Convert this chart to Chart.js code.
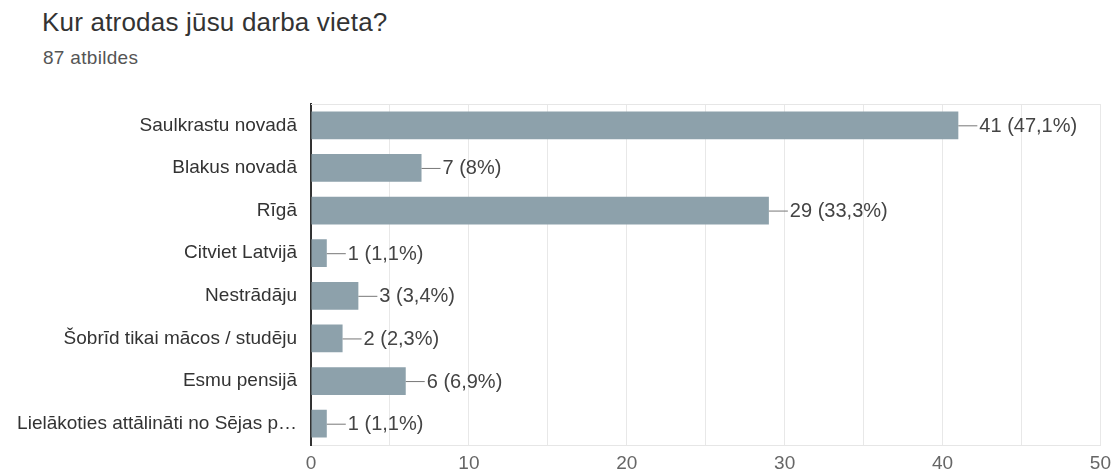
<!DOCTYPE html>
<html>
<head>
<meta charset="utf-8">
<script src="https://cdn.jsdelivr.net/npm/chart.js@4"></script>
<style>
  html, body { margin: 0; padding: 0; background: #fff; }
  #wrap { position: relative; width: 1118px; height: 475px; overflow: hidden; }
  #title { position: absolute; left: 42px; top: 7px; font: 26px "Liberation Sans", Arial, sans-serif; color: #333; white-space: nowrap; letter-spacing: 0.2px; }
  #sub { position: absolute; left: 43px; top: 47px; font: 19px "Liberation Sans", Arial, sans-serif; color: #555; white-space: nowrap; letter-spacing: 0.3px; }
  canvas { position: absolute; left: 0; top: 0; }
</style>
</head>
<body>
<div id="wrap">
  <div id="title">Kur atrodas jūsu darba vieta?</div>
  <div id="sub">87 atbildes</div>
  <canvas id="chart" width="1118" height="475"></canvas>
</div>
<script>
const categories = [
  'Saulkrastu novadā',
  'Blakus novadā',
  'Rīgā',
  'Citviet Latvijā',
  'Nestrādāju',
  'Šobrīd tikai mācos / studēju',
  'Esmu pensijā',
  'Lielākoties attālināti no Sējas p…'
];
const counts = [41, 7, 29, 1, 3, 2, 6, 1];
const totalAnswers = 87;
const xTicks = [0, 10, 20, 30, 40, 50];

const FONT = '"Liberation Sans", Arial, sans-serif';

function pctLabel(v) {
  const p = Math.round(v / totalAnswers * 1000) / 10;
  return v + ' (' + String(p).replace('.', ',') + '%)';
}

// value labels with a short leader line after each bar
const barLabels = {
  id: 'barLabels',
  afterDatasetsDraw(chart) {
    const ctx = chart.ctx;
    const meta = chart.getDatasetMeta(0);
    ctx.save();
    ctx.font = '20px ' + FONT;
    ctx.textBaseline = 'middle';
    ctx.textAlign = 'left';
    meta.data.forEach((bar, i) => {
      const x = bar.x, y = bar.y;
      ctx.strokeStyle = '#777';
      ctx.lineWidth = 1;
      ctx.beginPath();
      ctx.moveTo(x, y + 0.5);
      ctx.lineTo(x + 19, y + 0.5);
      ctx.stroke();
      ctx.fillStyle = '#444';
      ctx.fillText(pctLabel(counts[i]), x + 21, y + 1);
    });
    ctx.restore();
  }
};

// light frame line on top of the plot area
const topLine = {
  id: 'topLine',
  beforeDatasetsDraw(chart) {
    const a = chart.chartArea, ctx = chart.ctx;
    ctx.save();
    ctx.strokeStyle = '#e6e6e6';
    ctx.lineWidth = 1;
    ctx.beginPath();
    ctx.moveTo(a.left, a.top + 0.5);
    ctx.lineTo(a.right, a.top + 0.5);
    ctx.stroke();
    ctx.restore();
  }
};

new Chart(document.getElementById('chart').getContext('2d'), {
  type: 'bar',
  data: {
    labels: categories,
    datasets: [{
      data: counts,
      backgroundColor: '#8da1ab',
      borderWidth: 0,
      barPercentage: 0.65,
      categoryPercentage: 1
    }]
  },
  options: {
    indexAxis: 'y',
    responsive: false,
    animation: false,
    layout: { padding: { top: 104, right: 13, bottom: 0, left: 0 } },
    plugins: { legend: { display: false }, tooltip: { enabled: false } },
    scales: {
      x: {
        min: 0,
        max: 50,
        afterFit: s => { s.height = 30; },
        afterBuildTicks: s => { s.ticks = [0, 5, 10, 15, 20, 25, 30, 35, 40, 45, 50].map(v => ({ value: v })); },
        ticks: {
          color: '#666',
          font: { family: FONT, size: 19 },
          padding: 7,
          maxRotation: 0,
          callback: v => xTicks.includes(v) ? String(v) : ''
        },
        grid: { color: '#e8e8e8', drawTicks: false },
        border: { display: true, color: '#e6e6e6' }
      },
      y: {
        afterFit: s => { s.width = 311; },
        ticks: {
          color: '#333',
          font: { family: FONT, size: 19 },
          padding: 6
        },
        grid: { display: false },
        border: { display: true, color: '#333', width: 2 }
      }
    }
  },
  plugins: [topLine, barLabels]
});
</script>
</body>
</html>
